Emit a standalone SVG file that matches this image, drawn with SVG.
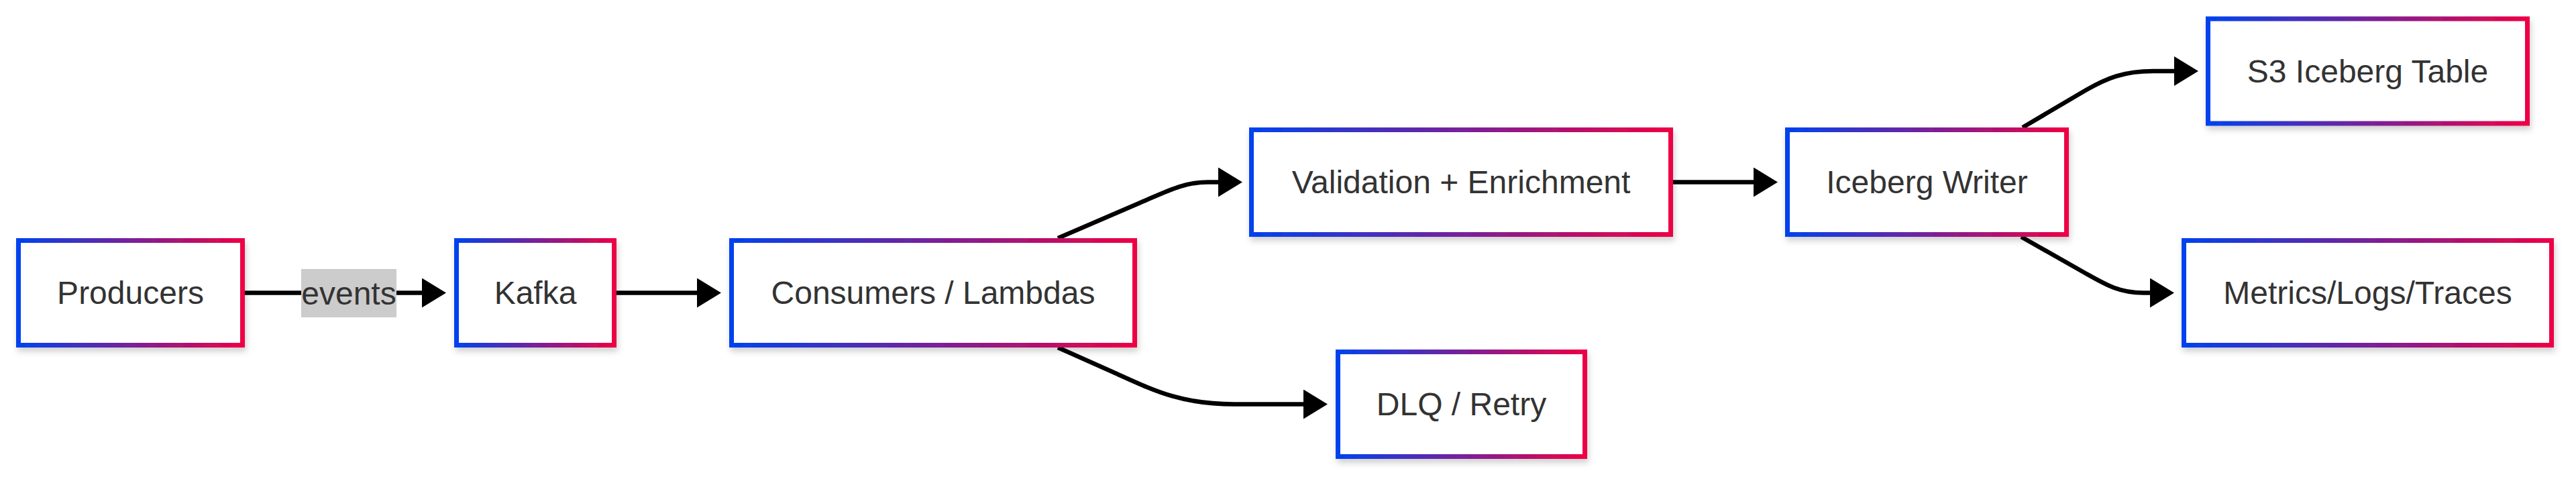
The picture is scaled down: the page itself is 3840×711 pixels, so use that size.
<svg xmlns="http://www.w3.org/2000/svg" width="3840" height="711" viewBox="0 0 3840 711">
  <defs>
    <linearGradient id="grad" x1="0" y1="0" x2="1" y2="0">
      <stop offset="0" stop-color="#0042ee"/>
      <stop offset="1" stop-color="#ee0045"/>
    </linearGradient>
    <filter id="shadow" x="-10%" y="-20%" width="120%" height="150%">
      <feDropShadow dx="2" dy="6" stdDeviation="5" flood-color="#000" flood-opacity="0.18"/>
    </filter>
    <marker id="arrow" markerUnits="userSpaceOnUse" markerWidth="36" markerHeight="44" viewBox="0 0 36 44" refX="0" refY="22" orient="auto">
      <path d="M0,0 L36,22 L0,44 z" fill="#000"/>
    </marker>
    <style>
      .node rect { fill: #ffffff; stroke: url(#grad); stroke-width: 7; filter: url(#shadow); }
      .node text { font-family: "Liberation Sans", Arial, sans-serif; font-size: 48px; fill: #333333; text-anchor: middle; dominant-baseline: central; }
      .edge { fill: none; stroke: #000000; stroke-width: 6.5; marker-end: url(#arrow); }
      .elabel rect { fill: #cccccc; }
      .elabel text { font-family: "Liberation Sans", Arial, sans-serif; font-size: 48px; fill: #333333; text-anchor: middle; dominant-baseline: central; }
    </style>
  </defs>
  <rect x="0" y="0" width="3840" height="711" fill="#ffffff"/>

  <g id="connectors">
    <path class="edge" d="M365,436.5 L629,436.5"/>
    <path class="edge" d="M919,436.5 L1039,436.5"/>
    <path class="edge" d="M1577,355 L1700,302 C1740,285 1765,271.5 1800,271.5 L1816,271.5"/>
    <path class="edge" d="M1577,518 L1660,555 C1720,582 1760,602.5 1840,602.5 L1943,602.5"/>
    <path class="edge" d="M2494,271.5 L2614,271.5"/>
    <path class="edge" d="M3015,190 L3110,134 C3140,117 3165,106 3210,106 L3241,106"/>
    <path class="edge" d="M3013,353 L3110,408 C3140,425 3160,436.5 3195,436.5 L3205,436.5"/>
    <g class="elabel" id="label-events">
      <rect x="449" y="401" width="142" height="72"/>
      <text x="520" y="437">events</text>
    </g>
  </g>

  <g id="producers" class="node">
    <rect x="27.5" y="358.5" width="334" height="156"/>
    <text x="194.5" y="436.5">Producers</text>
  </g>
  <g id="kafka" class="node">
    <rect x="680.5" y="358.5" width="235" height="156"/>
    <text x="798" y="436.5">Kafka</text>
  </g>
  <g id="consumers" class="node">
    <rect x="1090.5" y="358.5" width="601" height="156"/>
    <text x="1391" y="436.5">Consumers / Lambdas</text>
  </g>
  <g id="validation" class="node">
    <rect x="1865.5" y="193.5" width="625" height="156"/>
    <text x="2178" y="271.5">Validation + Enrichment</text>
  </g>
  <g id="dlq" class="node">
    <rect x="1994.5" y="524.5" width="368" height="156"/>
    <text x="2178.5" y="602.5">DLQ / Retry</text>
  </g>
  <g id="iceberg-writer" class="node">
    <rect x="2664.5" y="193.5" width="416" height="156"/>
    <text x="2872.5" y="271.5">Iceberg Writer</text>
  </g>
  <g id="s3-table" class="node">
    <rect x="3291.5" y="28" width="476" height="156"/>
    <text x="3529.5" y="106">S3 Iceberg Table</text>
  </g>
  <g id="metrics" class="node">
    <rect x="3255.5" y="358.5" width="548" height="156"/>
    <text x="3529.5" y="436.5">Metrics/Logs/Traces</text>
  </g>
</svg>
